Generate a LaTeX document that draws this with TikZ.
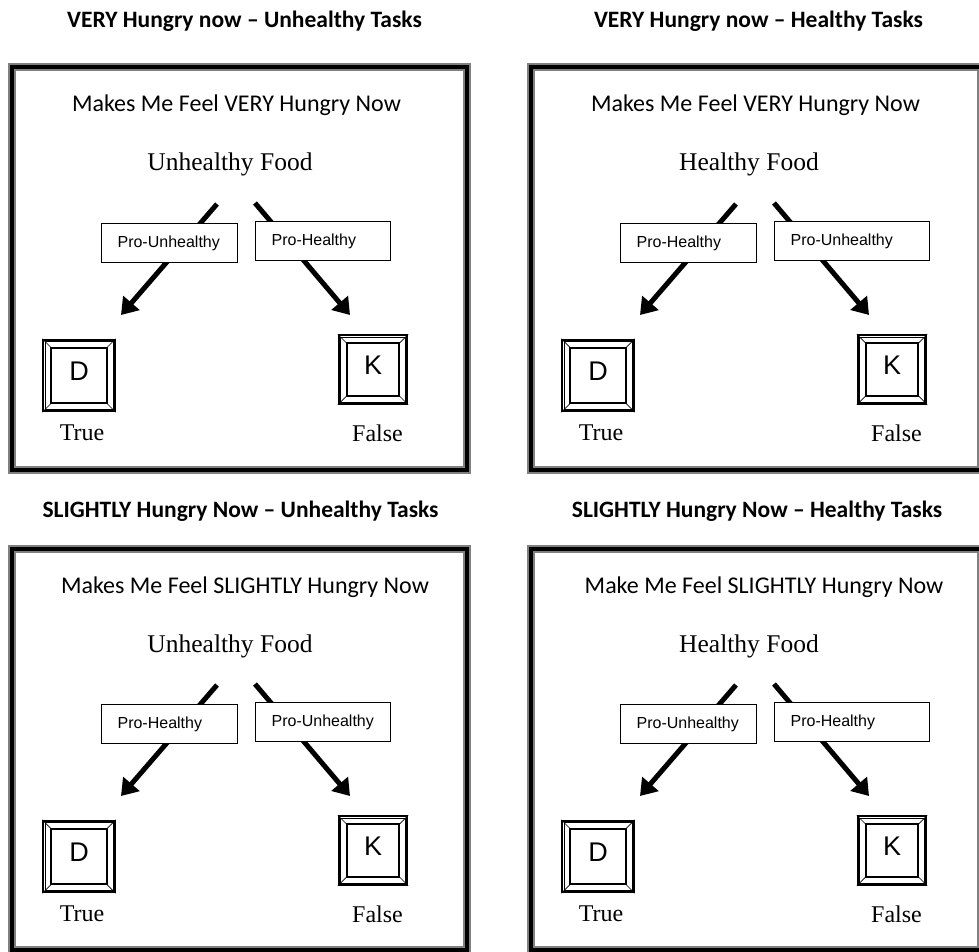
\documentclass[tikz,border=0pt]{standalone}
\usepackage{fontspec}
\usetikzlibrary{arrows.meta, calc}
\newfontfamily\calfont{Carlito}
\newfontfamily\arialfont{Liberation Sans}
\newfontfamily\romanfont{Liberation Serif}
\tikzset{
  panelframe/.style={draw=black!50, line width=8pt, postaction={draw=black, line width=4.5pt}},
  heading/.style={anchor=base, font=\calfont\bfseries\fontsize{23.5}{28}\selectfont},
  prompt/.style={anchor=base, font=\calfont\fontsize{24}{28}\selectfont},
  food/.style={anchor=base, font=\romanfont\fontsize{25.5}{30}\selectfont},
  answer/.style={anchor=base, font=\romanfont\fontsize{24}{28}\selectfont},
  pro/.style={draw, fill=white, line width=1.2pt, anchor=north west, minimum height=39pt, inner xsep=16pt, inner ysep=0pt, text width=#1, align=left, font=\arialfont\fontsize{16}{19}\selectfont},
  keycap/.style={draw, line width=1.8pt, minimum width=#1, minimum height=#1, inner sep=0pt, text height=20pt, text depth=10pt, font=\arialfont\fontsize{27}{27}\selectfont},
  fatarrow/.style={-{Triangle[length=16pt,width=21pt]}, line width=5pt}
}
% bevel of a key cap
\newcommand\keybevel[1]{%
  \draw[line width=0.7pt] ($(#1.north west)+(2.8pt,-2.8pt)$) rectangle ($(#1.south east)+(-2.8pt,2.8pt)$);
  \draw[line width=1.8pt] ($(#1.north west)+(9pt,-9pt)$) rectangle ($(#1.south east)+(-9pt,9pt)$);
  \draw[line width=0.7pt] (#1.north west) -- ++(9pt,-9pt);
  \draw[line width=0.7pt] (#1.north east) -- ++(-9pt,-9pt);
  \draw[line width=0.7pt] (#1.south west) -- ++(9pt,9pt);
  \draw[line width=0.7pt] (#1.south east) -- ++(-9pt,9pt);
}
% one panel: prefix, shift x, shift y, prompt centre, prompt, food, left label, right label, right text width
\newcommand\hungerpanel[9]{%
\begin{scope}[shift={(#2,#3)}, name prefix=#1-]
  \node[prompt] (makes) at (#4,112) {#5};
  \node[food] (food) at (230,171) {#6};
  \coordinate (lfrom) at (217,204);
  \coordinate (lto) at (121,315);
  \coordinate (rfrom) at (255,203);
  \coordinate (rto) at (350,315);
  \draw[fatarrow] (lfrom) -- (lto);
  \draw[fatarrow] (rfrom) -- (rto);
  \node[pro=104pt] (lpro) at (101,223) {#7};
  \node[pro=#9] (rpro) at (255,221) {#8};
  \node[keycap=71.5pt] (dkey) at (79,375.5) {D};
  \node[keycap=68.5pt] (kkey) at (373,369.5) {K};
  \keybevel{dkey}
  \keybevel{kkey}
  \node[answer] (truetxt) at (82,440) {True};
  \node[answer] (falsetxt) at (377.5,441) {False};
\end{scope}}

\begin{document}
\begin{tikzpicture}[x=1pt, y=-1pt]
\useasboundingbox (0,0) rectangle (979,952);
\fill[white] (0,0) rectangle (979,952);
\clip (0,0) rectangle (979,952);

\node[heading] (t1) at (244.5,27.5) {VERY Hungry now – Unhealthy Tasks};
\node[heading] (t2) at (758.5,27.5) {VERY Hungry now – Healthy Tasks};
\node[heading] (t3) at (240.5,517) {SLIGHTLY Hungry Now – Unhealthy Tasks};
\node[heading] (t4) at (757,517) {SLIGHTLY Hungry Now – Healthy Tasks};

\draw[panelframe] (12,67) rectangle (467,470);
\draw[panelframe] (531,67) rectangle (981,470);
\draw[panelframe] (12,549) rectangle (467,950);
\draw[panelframe] (531,549) rectangle (981,950);

\hungerpanel{vu}{0}{0}{236.5}{Makes Me Feel VERY Hungry Now}{Unhealthy Food}{Pro-Unhealthy}{Pro-Healthy}{103pt}
\hungerpanel{vh}{519}{0}{236.5}{Makes Me Feel VERY Hungry Now}{Healthy Food}{Pro-Healthy}{Pro-Unhealthy}{123pt}
\hungerpanel{su}{0}{481}{245}{Makes Me Feel SLIGHTLY Hungry Now}{Unhealthy Food}{Pro-Healthy}{Pro-Unhealthy}{103pt}
\hungerpanel{sh}{519}{481}{245}{Make Me Feel SLIGHTLY Hungry Now}{Healthy Food}{Pro-Unhealthy}{Pro-Healthy}{123pt}
\end{tikzpicture}
\end{document}
